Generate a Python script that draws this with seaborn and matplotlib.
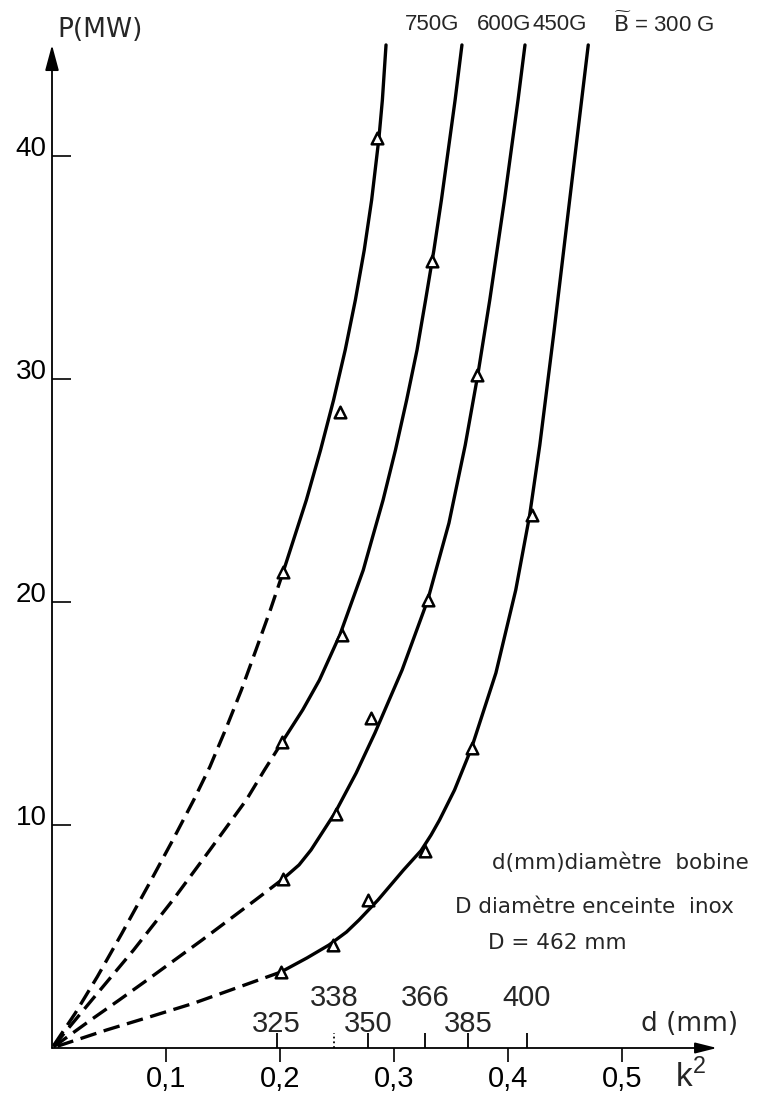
import numpy as np
import pandas as pd
import matplotlib
matplotlib.use("Agg")
import matplotlib.pyplot as plt
import seaborn as sns

# ---------------- data ----------------
fields = ["750G", "600G", "450G", "300G"]

# solid (measured) parts of the curves: k^2 and P (MW)
k_750_solid = [0.2028, 0.2231, 0.2356, 0.2470, 0.2572, 0.2661, 0.2739, 0.2804, 0.2868, 0.2898, 0.2930]
P_750_solid = [21.35, 24.57, 26.82, 29.06, 31.30, 33.54, 35.78, 38.03, 40.81, 42.51, 44.98]
k_600_solid = [0.2021, 0.2199, 0.2346, 0.2525, 0.2730, 0.2904, 0.3013, 0.3111, 0.3202, 0.3277, 0.3350, 0.3416, 0.3536, 0.3596]
P_600_solid = [13.74, 15.16, 16.50, 18.52, 21.43, 24.57, 26.82, 29.06, 31.30, 33.54, 35.78, 38.03, 42.51, 44.98]
k_450_solid = [0.2026, 0.2167, 0.2272, 0.2482, 0.2668, 0.2833, 0.3071, 0.3296, 0.3482, 0.3625, 0.3735, 0.3840, 0.3969, 0.4088, 0.4149]
P_450_solid = [7.58, 8.21, 8.88, 10.54, 12.33, 14.13, 16.95, 20.09, 23.54, 27.04, 30.18, 33.54, 38.03, 42.51, 44.98]
k_300_solid = [0.2009, 0.2237, 0.2430, 0.2583, 0.2693, 0.2860, 0.3083, 0.3237, 0.3325, 0.3399, 0.3531, 0.3680,
               0.3894, 0.4068, 0.4189, 0.4279, 0.4402, 0.4471, 0.4541, 0.4646, 0.4704]
P_300_solid = [3.41, 4.04, 4.62, 5.20, 5.74, 6.64, 7.98, 8.85, 9.55, 10.22, 11.57, 13.45,
               16.82, 20.54, 23.86, 27.04, 32.06, 35.02, 38.03, 42.51, 44.98]

# dashed (extrapolated) parts down to the origin
k_750_dash = [0.2028, 0.1915, 0.1789, 0.1661, 0.1533, 0.1385, 0.1243, 0.1060, 0.0855, 0.0613, 0.0398, 0.0204, 0.0]
P_750_dash = [21.35, 19.64, 17.85, 16.05, 14.41, 12.61, 11.12, 9.33, 7.39, 5.14, 3.20, 1.56, 0.0]
k_600_dash = [0.2021, 0.1864, 0.1704, 0.1385, 0.1061, 0.0715, 0.0349, 0.0]
P_600_dash = [13.74, 12.47, 11.12, 8.88, 6.64, 4.39, 2.15, 0.0]
k_450_dash = [0.2026, 0.1785, 0.1316, 0.1077, 0.0835, 0.0589, 0.0341, 0.0]
P_450_dash = [7.58, 6.64, 4.84, 3.95, 3.05, 2.15, 1.26, 0.0]
k_300_dash = [0.2009, 0.1649, 0.1239, 0.0860, 0.0480, 0.0]
P_300_dash = [3.41, 2.75, 2.00, 1.40, 0.81, 0.0]

# measured points (triangles)
tri_k_750 = [0.2028, 0.2526, 0.2848]
tri_P_750 = [21.35, 28.5, 40.8]
tri_k_600 = [0.2021, 0.2541, 0.3331]
tri_P_600 = [13.74, 18.5, 35.3]
tri_k_450 = [0.2026, 0.2489, 0.2796, 0.3301, 0.3725]
tri_P_450 = [7.58, 10.5, 14.8, 20.1, 30.2]
tri_k_300 = [0.2009, 0.2468, 0.2775, 0.3272, 0.3682, 0.4208]
tri_P_300 = [3.41, 4.62, 6.64, 8.85, 13.44, 23.9]

# axes ticks
k_ticks = [0.1, 0.2, 0.3, 0.4, 0.5]
k_tick_labels = ["0,1", "0,2", "0,3", "0,4", "0,5"]
P_ticks = [10, 20, 30, 40]
P_tick_labels = ["10", "20", "30", "40"]

# coil diameter scale d (mm) placed on the k^2 axis
d_values = [325, 338, 350, 366, 385, 400]
d_k = [0.197, 0.2474, 0.2772, 0.327, 0.365, 0.4167]

curve_labels = ["750G", "600G", "450G", r"$\widetilde{\mathsf{B}}$ = 300 G"]

# ---------------- build tables ----------------
solid = {"750G": (k_750_solid, P_750_solid), "600G": (k_600_solid, P_600_solid),
         "450G": (k_450_solid, P_450_solid), "300G": (k_300_solid, P_300_solid)}
dash = {"750G": (k_750_dash, P_750_dash), "600G": (k_600_dash, P_600_dash),
        "450G": (k_450_dash, P_450_dash), "300G": (k_300_dash, P_300_dash)}
tris = {"750G": (tri_k_750, tri_P_750), "600G": (tri_k_600, tri_P_600),
        "450G": (tri_k_450, tri_P_450), "300G": (tri_k_300, tri_P_300)}

rows = []
for f in fields:
    for part, src in (("solid", solid), ("dashed", dash)):
        kk, pp = src[f]
        for i, (a, b) in enumerate(zip(kk, pp)):
            rows.append({"field": f, "part": part, "order": i, "k": a, "P": b})
curves = pd.DataFrame(rows)
pts = pd.DataFrame([{"field": f, "k": a, "P": b} for f in fields for a, b in zip(*tris[f])])

# ---------------- figure ----------------
sns.set_theme(style="ticks")
plt.rcParams["font.family"] = ["DejaVu Sans"]
plt.rcParams["axes.facecolor"] = "white"
plt.rcParams["lines.solid_capstyle"] = "round"
plt.rcParams["lines.dash_capstyle"] = "butt"
NARROW = ["Liberation Sans", "DejaVu Sans"]
REG = ["Liberation Sans", "DejaVu Sans"]

W, H = 759, 1095
x0, y0 = 52, 1048          # origin in pixels
xr, yt = 717, 45           # arrow tips
fig = plt.figure(figsize=(W / 100, H / 100), dpi=100)
ax = fig.add_axes([x0 / W, 1 - y0 / H, (xr - x0) / W, (y0 - yt) / H])
kmax = (xr - x0) / 1140.0
pmax = (y0 - yt) / 22.3
ax.set_xlim(0, kmax)
ax.set_ylim(0, pmax)

sns.lineplot(data=curves, x="k", y="P", hue="field", style="part",
             palette={f: "black" for f in fields},
             dashes={"solid": "", "dashed": (5, 2.3)},
             sort=False, estimator=None, linewidth=2.4, legend=False,
             ax=ax, clip_on=False)
sns.scatterplot(data=pts, x="k", y="P", marker="^", s=70, color="white",
                edgecolor="black", linewidth=1.8, zorder=5, legend=False,
                ax=ax, clip_on=False)

for s in ax.spines.values():
    s.set_visible(False)
arrow_y = dict(arrowstyle="-|>,head_length=1.3,head_width=0.35", lw=1.3, color="black",
               shrinkA=0, shrinkB=0, mutation_scale=12)
arrow_x = dict(arrowstyle="-|>,head_length=1.2,head_width=0.3", lw=1.3, color="black",
               shrinkA=0, shrinkB=0, mutation_scale=11)
ax.annotate("", xy=(0, 1), xytext=(0, 0), xycoords="axes fraction", arrowprops=arrow_y)
ax.annotate("", xy=(1, 0), xytext=(0, 0), xycoords="axes fraction", arrowprops=arrow_x)

ax.set_xticks(k_ticks, labels=k_tick_labels, family=NARROW, fontsize=21)
ax.set_yticks(P_ticks, labels=P_tick_labels, family=REG, fontsize=20, va="baseline")
ax.tick_params(axis="x", direction="out", length=10, width=1.2, pad=2, colors="black")
ax.tick_params(axis="y", direction="in", length=14, width=1.2, pad=4, colors="black")
ax.set_xlabel("")
ax.set_ylabel("")

# d (mm) scale ticks pointing up from the k^2 axis
d_styles = ["solid", ":", "solid", "solid", "solid", "solid"]
d_rows = [0, 1, 0, 1, 0, 1]
ax.vlines(d_k, 0, 15 / (y0 - yt), transform=ax.get_xaxis_transform(),
          colors="black", linewidths=1.3, linestyles=d_styles, clip_on=False)
for kv, dv, r in zip(d_k, d_values, d_rows):
    ax.annotate(str(dv), xy=(kv, 0), xycoords=("data", "axes fraction"),
                xytext=(0, 17.5 + 18.5 * r), textcoords="offset points",
                ha="center", va="center", family=NARROW, fontsize=21)

ax.text((690 - x0) / 1140, (y0 - 1024) / 22.3, "d (mm)", ha="center", va="center",
        fontsize=19, clip_on=False)
ax.text((690 - x0) / 1140, (y0 - 1077) / 22.3, r"k$^{\mathregular{2}}$", ha="center",
        va="center", family=NARROW, fontsize=24, clip_on=False)
ax.text((100 - x0) / 1140, (y0 - 30) / 22.3, "P(MW)", ha="center", va="center",
        fontsize=19, clip_on=False)

label_x = [432, 504, 560, 664]
for lx, lab in zip(label_x, curve_labels):
    ax.text((lx - x0) / 1140, (y0 - 25) / 22.3, lab, ha="center", va="center",
            family=NARROW, fontsize=16, clip_on=False)

notes = ["d(mm)diamètre  bobine", "D diamètre enceinte  inox", "D = 462 mm"]
note_x = [492, 455, 488]
note_y = [863, 907, 943]
for t, nx, ny in zip(notes, note_x, note_y):
    ax.text((nx - x0) / 1140, (y0 - ny) / 22.3, t, ha="left", va="center",
            fontsize=15.5, clip_on=False)

fig.savefig("out.png", dpi=100, facecolor="white")
